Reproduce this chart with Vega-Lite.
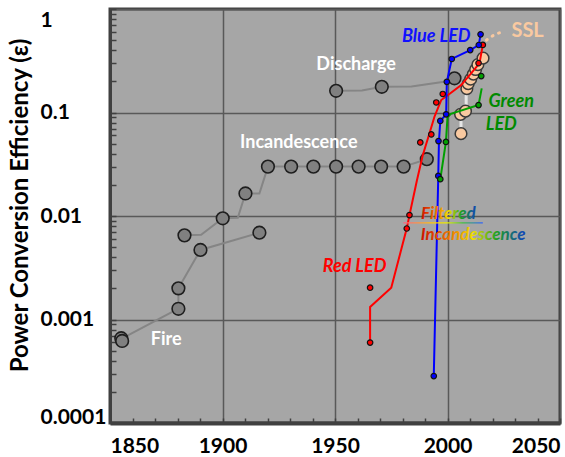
{
  "$schema": "https://vega.github.io/schema/vega-lite/v6.json",
  "autosize": {"type": "none"},
  "padding": {"left": 110, "top": 9, "right": 5, "bottom": 34},
  "width": 450,
  "height": 414,
  "background": "white",
  "config": {
    "view": {"fill": "#a6a6a6", "stroke": "#404040", "strokeWidth": 3},
    "font": "Lato"
  },
  "datasets": {
    "lines": [
      {"s": "fireA", "o": 1, "year": 1855, "v": 0.00065},
      {"s": "fireA", "o": 2, "year": 1880.4, "v": 0.00127},
      {"s": "fireA", "o": 3, "year": 1880.4, "v": 0.002},
      {"s": "fireA", "o": 4, "year": 1890.2, "v": 0.0047},
      {"s": "fireA", "o": 5, "year": 1916.4, "v": 0.0069},
      {"s": "fireB", "o": 1, "year": 1883.1, "v": 0.0065},
      {"s": "fireB", "o": 2, "year": 1890.5, "v": 0.0066},
      {"s": "fireB", "o": 3, "year": 1900.1, "v": 0.0095},
      {"s": "fireB", "o": 4, "year": 1906.8, "v": 0.0096},
      {"s": "fireB", "o": 5, "year": 1910.2, "v": 0.0165},
      {"s": "fireB", "o": 6, "year": 1916.4, "v": 0.0165},
      {"s": "fireB", "o": 7, "year": 1920.2, "v": 0.03},
      {"s": "fireB", "o": 8, "year": 1980.5, "v": 0.03},
      {"s": "fireB", "o": 9, "year": 1990.8, "v": 0.0354},
      {"s": "discharge", "o": 1, "year": 1950.5, "v": 0.162},
      {"s": "discharge", "o": 2, "year": 1962, "v": 0.163},
      {"s": "discharge", "o": 3, "year": 1970.8, "v": 0.177},
      {"s": "discharge", "o": 4, "year": 1984, "v": 0.178},
      {"s": "discharge", "o": 5, "year": 2000, "v": 0.2},
      {"s": "discharge", "o": 6, "year": 2003.1, "v": 0.214}
    ],
    "ledlines": [
      {"s": "red", "o": 1, "year": 1965.6, "v": 0.000598},
      {"s": "red", "o": 2, "year": 1965.6, "v": 0.00132},
      {"s": "red", "o": 3, "year": 1975, "v": 0.00203},
      {"s": "red", "o": 4, "year": 1981.9, "v": 0.0076},
      {"s": "red", "o": 5, "year": 1983.1, "v": 0.0102},
      {"s": "red", "o": 6, "year": 1986.4, "v": 0.022},
      {"s": "red", "o": 7, "year": 1989, "v": 0.0387},
      {"s": "red", "o": 8, "year": 1992, "v": 0.063},
      {"s": "red", "o": 9, "year": 1994.2, "v": 0.091},
      {"s": "red", "o": 10, "year": 1997.2, "v": 0.132},
      {"s": "red", "o": 11, "year": 2000.1, "v": 0.147},
      {"s": "red", "o": 12, "year": 2006.1, "v": 0.184},
      {"s": "red", "o": 13, "year": 2014.2, "v": 0.298},
      {"s": "red", "o": 14, "year": 2015.7, "v": 0.449},
      {"s": "blue", "o": 1, "year": 1993.9, "v": 0.000284},
      {"s": "blue", "o": 2, "year": 1995.9, "v": 0.0244},
      {"s": "blue", "o": 3, "year": 1996.2, "v": 0.053},
      {"s": "blue", "o": 4, "year": 1996.8, "v": 0.083},
      {"s": "blue", "o": 5, "year": 1999.4, "v": 0.096},
      {"s": "blue", "o": 6, "year": 1999.7, "v": 0.198},
      {"s": "blue", "o": 7, "year": 2001.9, "v": 0.329},
      {"s": "blue", "o": 8, "year": 2010.1, "v": 0.401},
      {"s": "blue", "o": 9, "year": 2013.9, "v": 0.449},
      {"s": "blue", "o": 10, "year": 2014.7, "v": 0.569},
      {"s": "green", "o": 1, "year": 1996.8, "v": 0.0227},
      {"s": "green", "o": 2, "year": 1999.3, "v": 0.052},
      {"s": "green", "o": 3, "year": 2000, "v": 0.09},
      {"s": "green", "o": 4, "year": 2001.5, "v": 0.097},
      {"s": "green", "o": 5, "year": 2013.8, "v": 0.118},
      {"s": "green", "o": 6, "year": 2015.2, "v": 0.171}
    ],
    "sslline": [
      {"o": 1, "year": 2006, "v": 0.0625},
      {"o": 2, "year": 2006, "v": 0.096},
      {"o": 3, "year": 2008.3, "v": 0.103},
      {"o": 4, "year": 2008.3, "v": 0.17}
    ],
    "ssldots": [
      {"o": 1, "year": 2017.3, "v": 0.5},
      {"o": 2, "year": 2019.9, "v": 0.548},
      {"o": 3, "year": 2022.4, "v": 0.582},
      {"o": 4, "year": 2024.8, "v": 0.603}
    ],
    "gray": [
      {"year": 1855, "v": 0.00066},
      {"year": 1855.4, "v": 0.00062},
      {"year": 1880.4, "v": 0.00127},
      {"year": 1880.4, "v": 0.002},
      {"year": 1883.1, "v": 0.0065},
      {"year": 1890.2, "v": 0.0047},
      {"year": 1900.1, "v": 0.0095},
      {"year": 1910.2, "v": 0.0165},
      {"year": 1916.4, "v": 0.0069},
      {"year": 1920.2, "v": 0.03},
      {"year": 1930.5, "v": 0.03},
      {"year": 1940.4, "v": 0.03},
      {"year": 1950.5, "v": 0.03},
      {"year": 1960.5, "v": 0.03},
      {"year": 1970.5, "v": 0.03},
      {"year": 1980.5, "v": 0.03},
      {"year": 1990.8, "v": 0.0354},
      {"year": 1950.5, "v": 0.162},
      {"year": 1970.8, "v": 0.177},
      {"year": 2003.1, "v": 0.214}
    ],
    "ssl": [
      {"year": 2006, "v": 0.0625},
      {"year": 2005.8, "v": 0.096},
      {"year": 2008, "v": 0.103},
      {"year": 2008.6, "v": 0.17},
      {"year": 2009.2, "v": 0.19},
      {"year": 2010.3, "v": 0.21},
      {"year": 2011.5, "v": 0.235},
      {"year": 2012.5, "v": 0.26},
      {"year": 2013.5, "v": 0.29},
      {"year": 2015.8, "v": 0.335}
    ],
    "leds": [
      {"s": "red", "year": 1965.6, "v": 0.000598},
      {"s": "red", "year": 1965.6, "v": 0.00203},
      {"s": "red", "year": 1981.9, "v": 0.00757},
      {"s": "red", "year": 1983.1, "v": 0.0102},
      {"s": "red", "year": 1987.9, "v": 0.0514},
      {"s": "red", "year": 1992.8, "v": 0.0614},
      {"s": "red", "year": 1995, "v": 0.125},
      {"s": "red", "year": 1997.9, "v": 0.151},
      {"s": "red", "year": 2013.8, "v": 0.3},
      {"s": "red", "year": 2015.7, "v": 0.45},
      {"s": "blue", "year": 1993.9, "v": 0.000284},
      {"s": "blue", "year": 1995.9, "v": 0.0244},
      {"s": "blue", "year": 1996, "v": 0.053},
      {"s": "blue", "year": 1996.8, "v": 0.083},
      {"s": "blue", "year": 1999.4, "v": 0.096},
      {"s": "blue", "year": 1999.7, "v": 0.198},
      {"s": "blue", "year": 2001.9, "v": 0.329},
      {"s": "blue", "year": 2010.1, "v": 0.401},
      {"s": "blue", "year": 2013.9, "v": 0.449},
      {"s": "blue", "year": 2014.7, "v": 0.569},
      {"s": "green", "year": 1996.8, "v": 0.0227},
      {"s": "green", "year": 1999.3, "v": 0.052},
      {"s": "green", "year": 2013.8, "v": 0.118},
      {"s": "green", "year": 2015, "v": 0.225}
    ],
    "labels": [
      {"t": "Fire", "g": "white", "year": 1875, "v": 0.00064},
      {"t": "Incandescence", "g": "white", "year": 1933.9, "v": 0.0502},
      {"t": "Discharge", "g": "white", "year": 1959.4, "v": 0.287},
      {"t": "Blue LED", "g": "blue", "year": 1995, "v": 0.54},
      {"t": "Green", "g": "green", "year": 2028.3, "v": 0.127},
      {"t": "LED", "g": "green", "year": 2023.9, "v": 0.0755},
      {"t": "Red LED", "g": "red", "year": 1958.7, "v": 0.00318},
      {"t": "SSL", "g": "ssl", "year": 2035.6, "v": 0.612},
      {"t": "Filtered", "g": "rainbow", "year": 2000.4, "v": 0.01057},
      {"t": "Incandescence", "g": "rainbow", "year": 2011.4, "v": 0.00652}
    ],
    "underline": [
      {"x1": 1980.4, "x2": 2015.7, "y1": 0.00845, "y2": 0.00872}
    ]
  },
  "encoding": {
    "x": {
      "field": "year", "type": "quantitative",
      "scale": {"domain": [1850, 2050], "nice": false, "zero": false},
      "axis": {
        "title": null,
        "values": [1850, 1860, 1870, 1880, 1890, 1900, 1910, 1920, 1930, 1940, 1950, 1960, 1970, 1980, 1990, 2000, 2010, 2020, 2030, 2040, 2050],
        "format": "d",
        "labelExpr": "datum.value % 50 === 0 ? datum.label : ''",
        "labelFlush": true,
        "labelOverlap": false,
        "labelFont": "Lato", "labelFontSize": 21, "labelFontWeight": "bold", "labelColor": "#000000",
        "labelBaseline": "top",
        "labelPadding": 17,
        "grid": true,
        "gridColor": "#595959", "gridWidth": 1.5,
        "gridOpacity": {"condition": {"test": "datum.value % 50 === 0", "value": 1}, "value": 0},
        "tickSize": -5, "tickColor": "#404040", "tickWidth": 1.5,
        "domainColor": "#404040", "domainWidth": 4
      }
    },
    "y": {
      "field": "v", "type": "quantitative",
      "scale": {"type": "log", "domain": [0.0001, 1], "nice": false},
      "axis": {
        "title": "Power Conversion Efficiency (ε)",
        "titleFont": "Lato", "titleFontSize": 24, "titleFontWeight": "bold", "titleColor": "#000000",
        "titleAngle": -90, "titleAlign": "center", "titleBaseline": "middle",
        "titleX": -90, "titleY": 196,
        "values": [0.0001, 0.0002, 0.0003, 0.0004, 0.0005, 0.0006, 0.0007, 0.0008, 0.0009, 0.001, 0.002, 0.003, 0.004, 0.005, 0.006, 0.007, 0.008, 0.009, 0.01, 0.02, 0.03, 0.04, 0.05, 0.06, 0.07, 0.08, 0.09, 0.1, 0.2, 0.3, 0.4, 0.5, 0.6, 0.7, 0.8, 0.9, 1],
        "labelExpr": "(datum.value === 0.0001 || datum.value === 0.001 || datum.value === 0.01 || datum.value === 0.1 || datum.value === 1) ? format(datum.value, '~g') : ''",
        "labelOverlap": false,
        "labelAlign": "left",
        "labelBaseline": {"condition": [{"test": "datum.value === 1", "value": "top"}, {"test": "datum.value === 0.0001", "value": "alphabetic"}], "value": "middle"},
        "labelPadding": 76,
        "labelFont": "Lato", "labelFontSize": 21, "labelFontWeight": "bold", "labelColor": "#000000",
        "grid": true,
        "gridColor": "#595959", "gridWidth": 1.5,
        "gridOpacity": {"condition": {"test": "datum.value === 0.0001 || datum.value === 0.001 || datum.value === 0.01 || datum.value === 0.1 || datum.value === 1", "value": 1}, "value": 0},
        "tickSize": -6, "tickColor": "#404040", "tickWidth": 1.5,
        "domainColor": "#404040", "domainWidth": 3
      }
    }
  },
  "layer": [
    {
      "data": {"name": "lines"},
      "mark": {"type": "line", "color": "#858585", "strokeWidth": 2},
      "encoding": {"detail": {"field": "s"}, "order": {"field": "o"}}
    },
    {
      "data": {"name": "gray"},
      "mark": {"type": "point", "shape": "circle", "filled": true, "fill": "#808080", "stroke": "#1e1e1e", "strokeWidth": 1.6, "opacity": 1, "size": 160}
    },
    {
      "data": {"name": "sslline"},
      "mark": {"type": "line", "color": "#e6e6e6", "strokeWidth": 3},
      "encoding": {"order": {"field": "o"}}
    },
    {
      "data": {"name": "ssldots"},
      "mark": {"type": "line", "color": "#f9c9a0", "strokeWidth": 3, "strokeDash": [1, 6], "strokeCap": "round"},
      "encoding": {"order": {"field": "o"}}
    },
    {
      "data": {"name": "ssl"},
      "mark": {"type": "point", "shape": "circle", "filled": true, "fill": "#f9c9a0", "stroke": "#3a3a3a", "strokeWidth": 1.5, "opacity": 1, "size": 135}
    },
    {
      "data": {"name": "ledlines"},
      "mark": {"type": "line", "strokeWidth": 2},
      "encoding": {
        "color": {"field": "s", "type": "nominal", "scale": {"domain": ["red", "blue", "green"], "range": ["#ff0000", "#0000ff", "#00a000"]}, "legend": null},
        "order": {"field": "o"}
      }
    },
    {
      "data": {"name": "leds"},
      "mark": {"type": "point", "shape": "circle", "filled": true, "stroke": "#111111", "strokeWidth": 1.2, "opacity": 1, "size": 30},
      "encoding": {
        "fill": {"field": "s", "type": "nominal", "scale": {"domain": ["red", "blue", "green"], "range": ["#ff0000", "#0000ff", "#00a000"]}, "legend": null}
      }
    },
    {
      "data": {"name": "underline"},
      "mark": {"type": "rect", "fill": {"gradient": "linear", "x1": 0, "y1": 0, "x2": 1, "y2": 0, "stops": [{"offset": 0, "color": "#ff6080"}, {"offset": 0.4, "color": "#ffd000"}, {"offset": 0.55, "color": "#e8f000"}, {"offset": 0.75, "color": "#40c040"}, {"offset": 1, "color": "#3060ff"}]}},
      "encoding": {
        "x": {"field": "x1", "type": "quantitative"},
        "x2": {"field": "x2"},
        "y": {"field": "y1", "type": "quantitative"},
        "y2": {"field": "y2"}
      }
    },
    {
      "data": {"name": "labels"},
      "transform": [{"filter": "datum.g === 'white'"}],
      "mark": {"type": "text", "font": "Lato", "fontSize": 18, "fontWeight": "bold", "color": "#ffffff", "align": "center", "baseline": "middle"},
      "encoding": {"text": {"field": "t"}}
    },
    {
      "data": {"name": "labels"},
      "transform": [{"filter": "datum.g === 'blue'"}],
      "mark": {"type": "text", "font": "Lato", "fontSize": 18, "fontWeight": "bold", "fontStyle": "italic", "color": "#1010ff", "align": "center", "baseline": "middle"},
      "encoding": {"text": {"field": "t"}}
    },
    {
      "data": {"name": "labels"},
      "transform": [{"filter": "datum.g === 'green'"}],
      "mark": {"type": "text", "font": "Lato", "fontSize": 18, "fontWeight": "bold", "fontStyle": "italic", "color": "#008a00", "align": "center", "baseline": "middle"},
      "encoding": {"text": {"field": "t"}}
    },
    {
      "data": {"name": "labels"},
      "transform": [{"filter": "datum.g === 'red'"}],
      "mark": {"type": "text", "font": "Lato", "fontSize": 18, "fontWeight": "bold", "fontStyle": "italic", "color": "#ff0000", "align": "center", "baseline": "middle"},
      "encoding": {"text": {"field": "t"}}
    },
    {
      "data": {"name": "labels"},
      "transform": [{"filter": "datum.g === 'ssl'"}],
      "mark": {"type": "text", "font": "Lato", "fontSize": 20, "fontWeight": "bold", "color": "#f9c9a0", "align": "center", "baseline": "middle"},
      "encoding": {"text": {"field": "t"}}
    },
    {
      "data": {"name": "labels"},
      "transform": [{"filter": "datum.g === 'rainbow'"}],
      "mark": {"type": "text", "font": "Lato", "fontSize": 17, "fontWeight": "bold", "fontStyle": "italic", "align": "center", "baseline": "middle",
        "fill": {"gradient": "linear", "x1": 0, "y1": 0, "x2": 1, "y2": 0, "stops": [{"offset": 0, "color": "#d01000"}, {"offset": 0.3, "color": "#f08000"}, {"offset": 0.5, "color": "#f0e000"}, {"offset": 0.72, "color": "#20a020"}, {"offset": 1, "color": "#1040c0"}]}},
      "encoding": {"text": {"field": "t"}}
    }
  ]
}
